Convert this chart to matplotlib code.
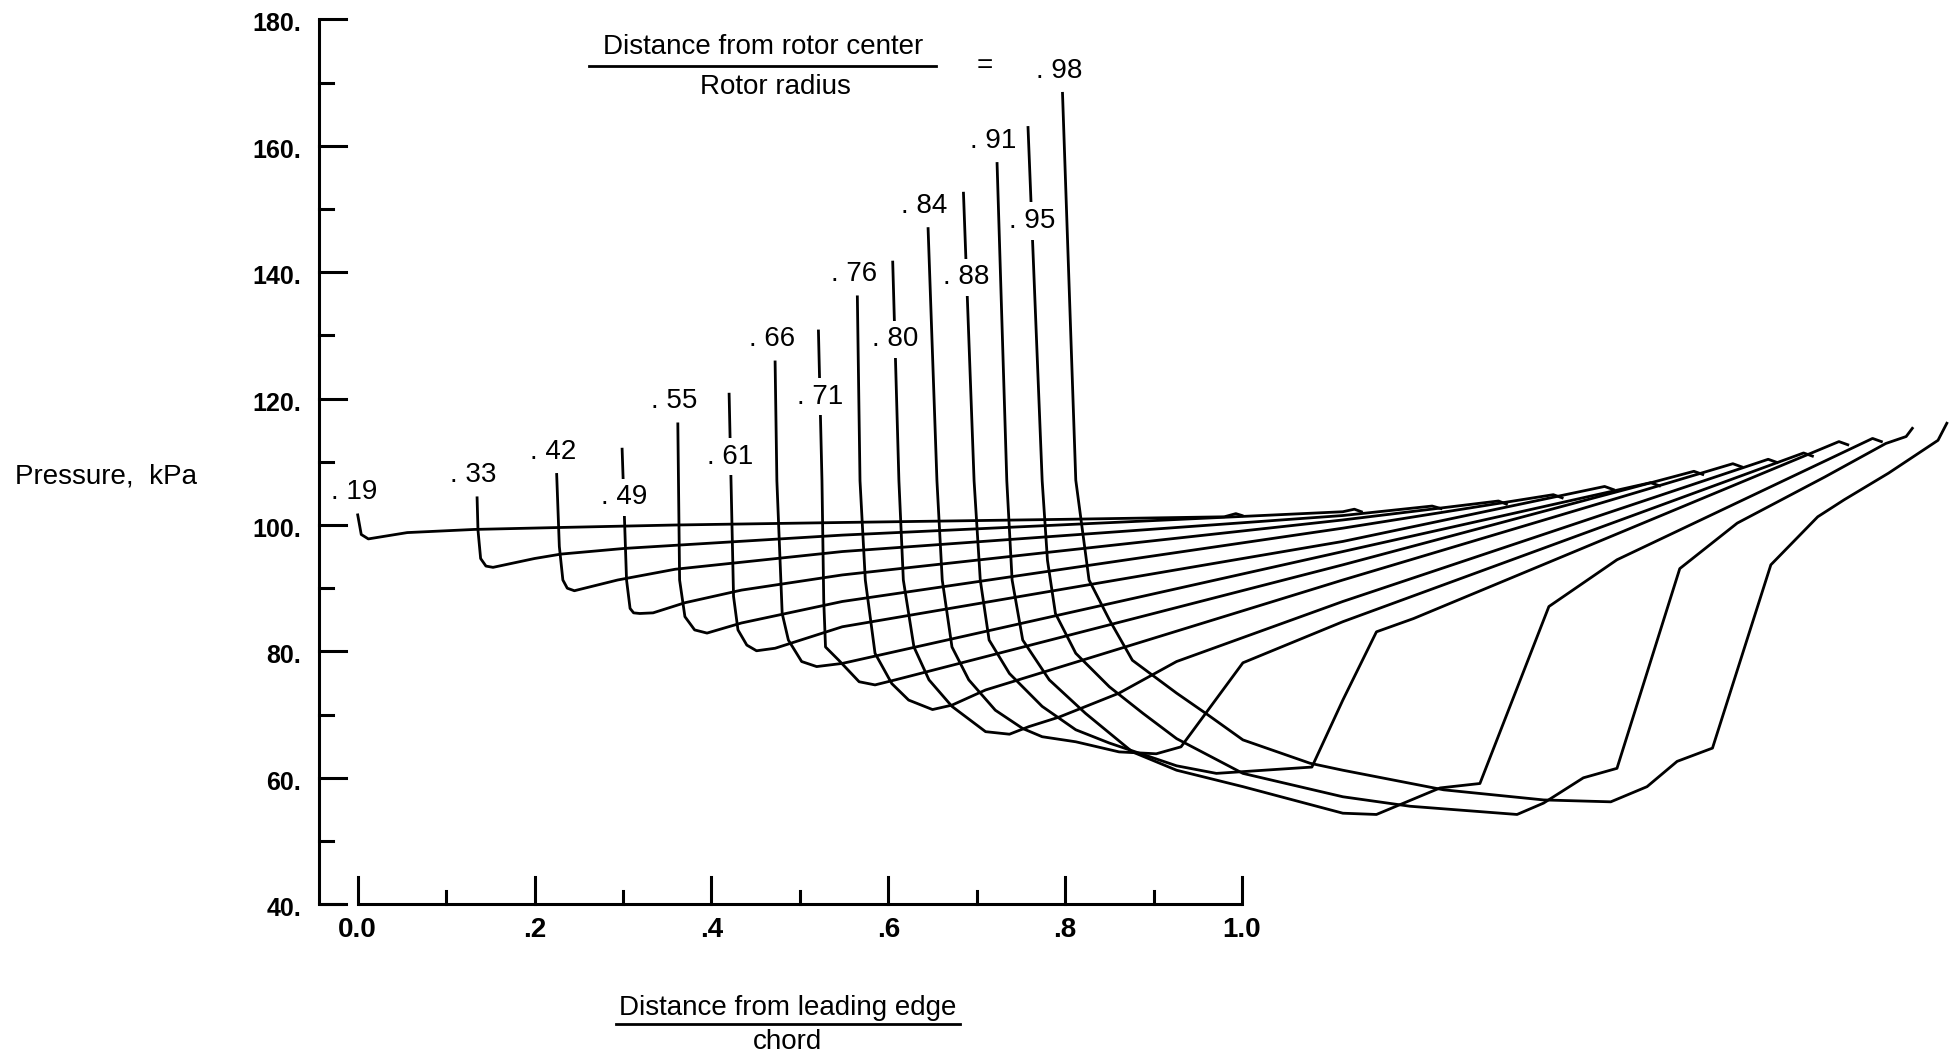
import numpy as np
import matplotlib
matplotlib.use('Agg')
import matplotlib.pyplot as plt

plt.rcParams['font.family'] = ['Liberation Sans', 'DejaVu Sans']

# radial stations (distance from rotor center / rotor radius)
stations = ['.19', '.33', '.42', '.49', '.55', '.61', '.66', '.71',
            '.76', '.80', '.84', '.88', '.91', '.95', '.98']
# chordwise stagger of each trace's leading edge on the plot
stagger = [0.000, 0.135, 0.225, 0.299, 0.362, 0.420, 0.472, 0.521,
           0.565, 0.605, 0.645, 0.685, 0.723, 0.758, 0.797]

# x/c and pressure (kPa)
x_19 = [0, 0.004, 0.012, 0.056, 0.132, 0.226, 0.359, 0.548, 0.80, 0.98, 0.993, 1.0]
p_19 = [101.6, 98.5, 97.8, 98.8, 99.3, 99.6, 100.0, 100.4, 100.9, 101.3, 101.8, 101.5]
x_33 = [0, 0.001, 0.004, 0.010, 0.018, 0.065, 0.095, 0.167, 0.413, 0.979, 0.992, 1.0]
p_33 = [104.3, 99.2, 94.7, 93.5, 93.3, 94.7, 95.4, 96.3, 98.4, 102.1, 102.5, 102.1]
x_42 = [0, 0.003, 0.007, 0.012, 0.020, 0.069, 0.134, 0.323, 0.889, 0.990, 1.0]
p_42 = [108.0, 96.6, 91.3, 90.0, 89.6, 91.3, 93.0, 95.8, 101.5, 103.0, 102.6]
x_49 = [0, 0.005, 0.009, 0.013, 0.020, 0.035, 0.071, 0.135, 0.249, 0.815, 0.991, 1.0]
p_49 = [112.0, 91.3, 86.8, 86.1, 86.0, 86.1, 87.7, 89.7, 92.1, 100.8, 103.8, 103.3]
x_55 = [0, 0.002, 0.008, 0.019, 0.033, 0.072, 0.186, 0.752, 0.990, 1.0]
p_55 = [116.0, 91.3, 85.5, 83.4, 82.9, 84.5, 87.9, 99.5, 104.8, 104.3]
x_61 = [0, 0.005, 0.010, 0.020, 0.031, 0.052, 0.128, 0.694, 0.990, 1.0]
p_61 = [120.7, 88.7, 83.4, 81.0, 80.1, 80.5, 83.9, 97.4, 106.1, 105.6]
x_66 = [0, 0.002, 0.008, 0.015, 0.030, 0.047, 0.076, 0.642, 0.990, 1.0]
p_66 = [125.8, 107.0, 86.0, 81.8, 78.4, 77.6, 78.1, 95.8, 106.7, 106.2]
x_71 = [0, 0.004, 0.006, 0.008, 0.023, 0.046, 0.064, 0.087, 0.593, 0.990, 1.0]
p_71 = [130.7, 107.0, 88.0, 80.7, 78.6, 75.2, 74.7, 75.5, 93.7, 108.5, 108.0]
x_76 = [0, 0.003, 0.009, 0.020, 0.039, 0.058, 0.085, 0.107, 0.145, 0.549, 0.990, 1.0]
p_76 = [136.1, 107.0, 91.3, 79.7, 74.9, 72.3, 70.8, 71.5, 73.9, 91.3, 109.7, 109.2]
x_80 = [0, 0.007, 0.012, 0.024, 0.041, 0.067, 0.105, 0.132, 0.154, 0.188, 0.256,
        0.321, 0.509, 0.990, 1.0]
p_80 = [141.6, 107.0, 91.3, 80.7, 75.5, 71.3, 67.3, 66.9, 68.1, 69.6, 73.4,
        78.4, 87.9, 110.4, 109.9]
x_84 = [0, 0.010, 0.016, 0.027, 0.046, 0.076, 0.107, 0.129, 0.167, 0.216, 0.258,
        0.286, 0.356, 0.469, 0.990, 1.0]
p_84 = [146.9, 107.0, 91.3, 80.7, 75.5, 70.7, 67.8, 66.5, 65.7, 64.1, 63.8,
        64.9, 78.2, 84.7, 111.4, 110.9]
x_88 = [0, 0.012, 0.019, 0.029, 0.052, 0.089, 0.127, 0.165, 0.241, 0.286, 0.394,
        0.429, 0.467, 0.509, 0.990, 1.0]
p_88 = [152.5, 107.0, 91.3, 81.8, 76.5, 71.3, 67.6, 65.5, 61.9, 60.7, 61.7,
        72.3, 83.1, 85.2, 113.2, 112.7]
x_91 = [0, 0.011, 0.017, 0.029, 0.059, 0.100, 0.153, 0.203, 0.278, 0.391, 0.429,
        0.501, 0.546, 0.624, 0.701, 0.990, 1.0]
p_91 = [157.2, 107.0, 91.3, 81.8, 75.5, 70.2, 64.1, 61.2, 58.6, 54.4, 54.2,
        58.4, 59.1, 87.1, 94.5, 113.7, 113.2]
x_95 = [0, 0.016, 0.022, 0.031, 0.054, 0.092, 0.130, 0.168, 0.243, 0.356, 0.432,
        0.553, 0.583, 0.628, 0.666, 0.737, 0.802, 0.901, 0.970, 0.993, 1.0]
p_95 = [162.9, 107.0, 94.4, 86.0, 79.7, 74.4, 70.2, 66.2, 60.7, 57.0, 55.5,
        54.2, 56.0, 60.0, 61.5, 93.1, 100.3, 107.6, 112.9, 114.0, 115.3]
x_98 = [0, 0.015, 0.030, 0.053, 0.079, 0.129, 0.163, 0.204, 0.280, 0.317, 0.431,
        0.544, 0.620, 0.661, 0.695, 0.735, 0.801, 0.854, 0.884, 0.934, 0.990, 1.0]
p_98 = [168.3, 107.1, 91.3, 85.0, 78.6, 73.4, 70.1, 66.0, 62.3, 61.2, 58.1,
        56.5, 56.2, 58.6, 62.6, 64.7, 93.7, 101.3, 104.0, 108.2, 113.4, 116.1]

chord_x = [x_19, x_33, x_42, x_49, x_55, x_61, x_66, x_71,
           x_76, x_80, x_84, x_88, x_91, x_95, x_98]
press = [p_19, p_33, p_42, p_49, p_55, p_61, p_66, p_71,
         p_76, p_80, p_84, p_88, p_91, p_95, p_98]

# stations whose label sits inside a break in the line (drop below top, kPa)
inline_drop = {'.49': 7.6, '.61': 9.9, '.71': 10.4, '.80': 12.2, '.88': 13.3, '.95': 14.8}

y_major = [40, 60, 80, 100, 120, 140, 160, 180]
y_minor = [50, 70, 90, 110, 130, 150, 170]
x_ticks = [0.0, 0.1, 0.2, 0.3, 0.4, 0.5, 0.6, 0.7, 0.8, 0.9, 1.0]
x_labels = {0.0: '0.0', 0.2: '.2', 0.4: '.4', 0.6: '.6', 0.8: '.8', 1.0: '1.0'}

fig = plt.figure(figsize=(19.57, 10.60), dpi=100)
ax = fig.add_axes([0, 0, 1, 1])
ax.set_xlim(-0.4045, 1.8085)
ax.set_ylim(15.35, 183.07)
ax.axis('off')

lw = 2.0
k = 'black'
fs = 20

# frame: y axis and chord axis (the chord axis starts just short of 0.0)
spine_x = -0.044
ax.plot([spine_x, spine_x], [40, 180], color=k, lw=2.2, solid_capstyle='butt')
ax.plot([spine_x, spine_x + 0.028], [40, 40], color=k, lw=2.2, solid_capstyle='butt')
ax.plot([0.0, 1.0], [40, 40], color=k, lw=2.2, solid_capstyle='butt')
for v in y_major:
    ax.plot([spine_x, spine_x + 0.031], [v, v], color=k, lw=2.2)
    ax.text(spine_x - 0.020, v - 0.8, f'{v}.', ha='right', va='center',
            fontsize=18, fontweight='bold')
for v in y_minor:
    ax.plot([spine_x, spine_x + 0.016], [v, v], color=k, lw=2.2)
for t in x_ticks:
    big = round(t * 10) % 2 == 0
    ax.plot([t, t], [40, 40 + (4.3 if big else 2.1)], color=k, lw=2.2)
    if big:
        ax.text(t, 35.9, x_labels[round(t, 1)], ha='center', va='center',
                fontsize=20, fontweight='bold')

# pressure traces
for name, off, xc, pc in zip(stations, stagger, chord_x, press):
    xs = off + np.asarray(xc)
    ax.plot(xs, pc, color=k, lw=lw, solid_joinstyle='round')
    if name in inline_drop:
        pl = pc[0] - inline_drop[name]
        xl = xs[0] + (xs[1] - xs[0]) * (pc[0] - pl) / (pc[0] - pc[1])
        ax.text(xl, pl, '. ' + name[1:], ha='center', va='center', fontsize=fs,
                bbox=dict(facecolor='white', edgecolor='none', pad=4))
    else:
        ax.text(xs[0] - 0.004, pc[0] + 3.6, '. ' + name[1:], ha='center',
                va='center', fontsize=fs)

# station legend
ax.text(0.458, 175.6, 'Distance from rotor center', ha='center', va='center', fontsize=fs)
ax.plot([0.261, 0.654], [172.6, 172.6], color=k, lw=2.0)
ax.text(0.4725, 169.3, 'Rotor radius', ha='center', va='center', fontsize=fs)
ax.text(0.709, 172.6, '=', ha='center', va='center', fontsize=fs)

# axis titles
ax.text(-0.2844, 107.6, 'Pressure,  kPa', ha='center', va='center', fontsize=fs)
ax.text(0.486, 23.6, 'Distance from leading edge', ha='center', va='center', fontsize=fs)
ax.plot([0.292, 0.681], [21.0, 21.0], color=k, lw=2.0)
ax.text(0.486, 18.2, 'chord', ha='center', va='center', fontsize=fs)

fig.savefig('out.png', dpi=100, facecolor='white')
